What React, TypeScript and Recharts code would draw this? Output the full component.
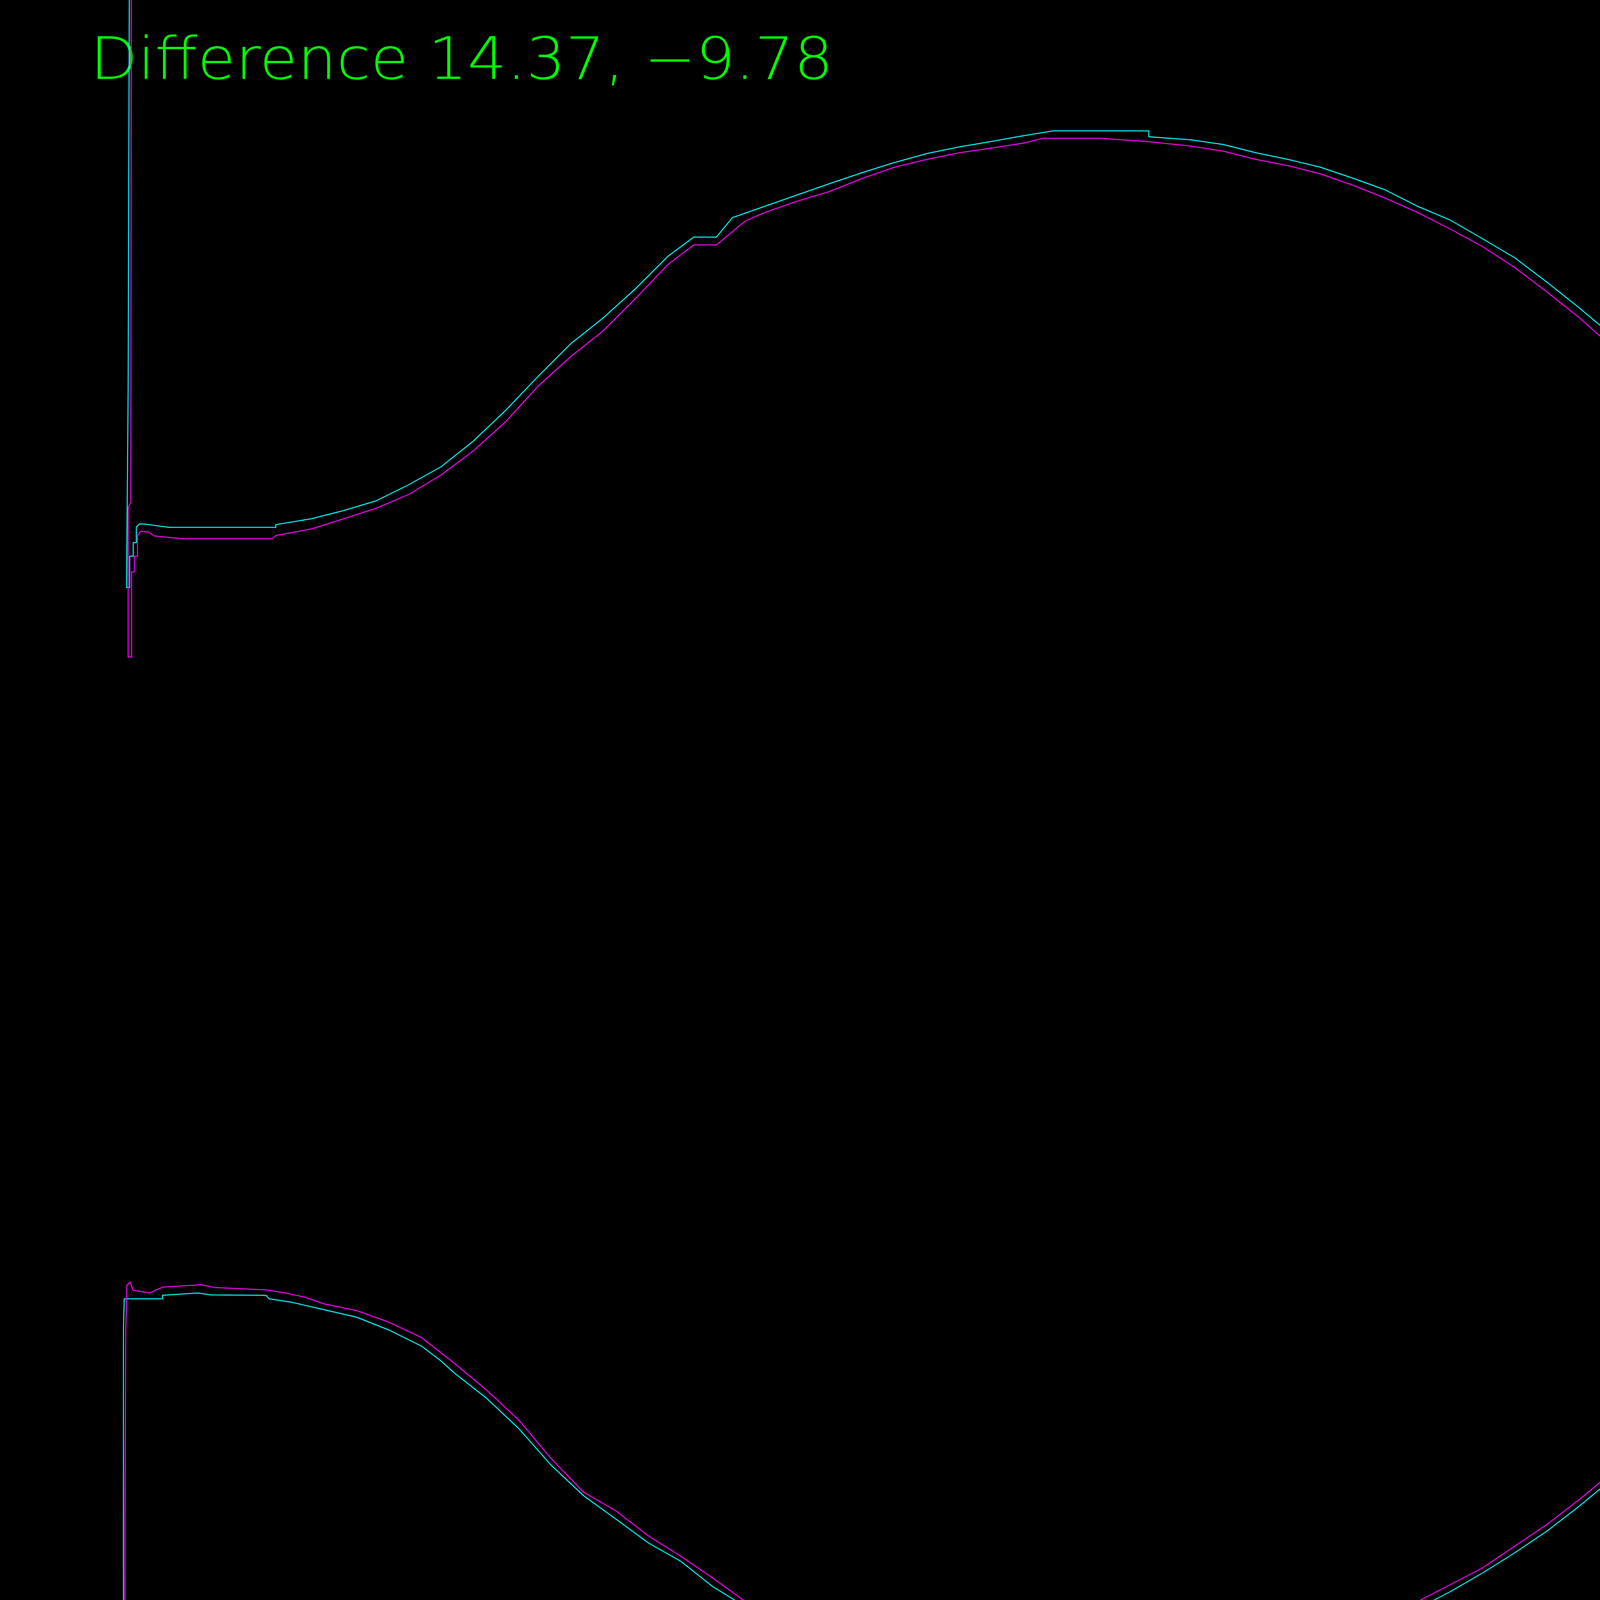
import React from 'react'
import { LineChart, Line, XAxis, YAxis } from 'recharts'

// image pixel space of the diff plot
const WIDTH = 5683
const HEIGHT = 4551

const title = 'Difference 14.37, \u22129.78'

// outlines, [x, y] in image pixels (y grows down)
const upperCyan = [
  [331, 0], [328, 1000], [324, 1504], [332, 1504], [332, 1424], [341, 1424], [341, 1389],
  [349, 1389], [349, 1349], [357, 1341], [373, 1342], [433, 1350], [706, 1350], [706, 1343],
  [797, 1328], [880, 1307], [963, 1282], [1046, 1241], [1129, 1195], [1212, 1129],
  [1295, 1050], [1378, 963], [1461, 880], [1544, 814], [1627, 739], [1710, 656],
  [1776, 607], [1834, 607], [1875, 557], [1958, 528], [2041, 499], [2124, 470],
  [2207, 442], [2290, 416], [2373, 393], [2456, 376], [2539, 362], [2605, 350],
  [2696, 335], [2941, 335], [2941, 350], [3049, 358], [3132, 370], [3215, 391],
  [3297, 408], [3380, 428], [3463, 456], [3546, 486], [3629, 528], [3712, 563],
  [3795, 611], [3878, 660], [3961, 723], [4044, 789], [4127, 859], [4210, 934],
  [4293, 1017], [4375, 1096], [4458, 1158], [4541, 1212], [4624, 1253], [4707, 1293],
  [4790, 1316], [4873, 1332], [4956, 1340], [5055, 1349], [5163, 1357], [5240, 1360],
  [5262, 1370], [5268, 1400], [5268, 1772], [5285, 1772], [5285, 1640], [5293, 1600],
  [5293, 0],
]

const upperMagenta = [
  [336, 0], [335, 1286], [328, 1300], [328, 1682], [337, 1682], [337, 1464], [344, 1464],
  [344, 1424], [352, 1424], [352, 1372], [360, 1360], [380, 1362], [395, 1372], [466, 1379],
  [698, 1379], [706, 1371], [797, 1354], [880, 1328], [963, 1301], [1046, 1266],
  [1129, 1216], [1212, 1154], [1295, 1079], [1378, 988], [1461, 913], [1544, 847],
  [1627, 764], [1710, 677], [1776, 627], [1834, 627], [1909, 565], [1958, 544],
  [2041, 515], [2124, 490], [2207, 457], [2290, 428], [2373, 408], [2456, 391],
  [2539, 379], [2622, 366], [2671, 354], [2816, 354], [2933, 362], [3049, 374],
  [3132, 387], [3215, 408], [3297, 424], [3380, 445], [3463, 474], [3546, 507],
  [3629, 544], [3712, 586], [3795, 631], [3878, 685], [3961, 748], [4044, 814],
  [4127, 888], [4210, 963], [4293, 1050], [4375, 1125], [4458, 1187], [4541, 1245],
  [4624, 1291], [4707, 1324], [4790, 1343], [4873, 1357], [4972, 1369], [5155, 1372],
  [5208, 1378], [5247, 1388], [5257, 1406], [5265, 1424], [5260, 1491], [5260, 1545],
  [5288, 1545], [5283, 1000], [5288, 764], [5288, 0],
]

const lowerCyan = [
  [0, 4549], [308, 4549], [308, 4500], [317, 4490], [316, 4000], [316, 3400], [318, 3325],
  [416, 3325], [416, 3316], [507, 3310], [540, 3315], [681, 3316], [689, 3325], [748, 3334],
  [830, 3353], [913, 3372], [996, 3405], [1079, 3446], [1129, 3484], [1162, 3514],
  [1245, 3579], [1328, 3657], [1411, 3751], [1494, 3829], [1577, 3889], [1660, 3950],
  [1743, 3997], [1825, 4062], [1908, 4113], [1991, 4148], [2074, 4178], [2157, 4204],
  [2240, 4243], [2323, 4264], [2406, 4281], [2489, 4296], [2572, 4310], [2655, 4318],
  [2721, 4324], [2916, 4324], [2991, 4310], [3065, 4301], [3132, 4290], [3215, 4273],
  [3297, 4249], [3380, 4225], [3463, 4199], [3546, 4156], [3629, 4118], [3712, 4075],
  [3795, 4027], [3878, 3975], [3961, 3919], [4044, 3855], [4127, 3786], [4210, 3708],
  [4293, 3622], [4375, 3545], [4458, 3476], [4541, 3420], [4624, 3381], [4707, 3359],
  [4790, 3340], [4890, 3319], [4972, 3310], [5188, 3308], [5196, 3316], [5221, 3316],
  [5229, 3299], [5238, 3308], [5271, 3310], [5277, 3400], [5277, 4547], [5488, 4547],
]

const lowerMagenta = [
  [194, 4522], [311, 4522], [311, 4513], [320, 4513], [320, 3900], [322, 3400], [325, 3290],
  [333, 3282], [341, 3303], [383, 3310], [416, 3295], [515, 3289], [549, 3296], [681, 3302],
  [731, 3310], [781, 3321], [830, 3338], [913, 3355], [996, 3385], [1079, 3424],
  [1162, 3489], [1245, 3558], [1328, 3635], [1411, 3734], [1494, 3820], [1577, 3868],
  [1660, 3932], [1743, 3984], [1825, 4040], [1908, 4100], [1991, 4139], [2074, 4169],
  [2157, 4200], [2240, 4234], [2323, 4253], [2406, 4268], [2489, 4286], [2572, 4299],
  [2704, 4313], [2924, 4314], [2924, 4305], [3016, 4299], [3074, 4290], [3132, 4279],
  [3215, 4260], [3297, 4238], [3380, 4212], [3463, 4178], [3546, 4139], [3629, 4100],
  [3712, 4057], [3795, 4014], [3878, 3958], [3961, 3902], [4044, 3838], [4127, 3769],
  [4210, 3687], [4293, 3596], [4375, 3523], [4458, 3458], [4541, 3407], [4624, 3364],
  [4707, 3338], [4790, 3316], [4906, 3299], [5039, 3290], [5122, 3293], [5171, 3289],
  [5213, 3299], [5233, 3286], [5271, 3289], [5274, 3400], [5274, 4520], [5487, 4520],
  [5487, 2570], [5683, 2570],
]

const toPoints = (pts: number[][]) => pts.map(([x, y]) => ({ x, y }))

const outlines = [
  { key: 'upperCyan', pts: upperCyan, color: '#00ffff' },
  { key: 'upperMagenta', pts: upperMagenta, color: '#ff00ff' },
  { key: 'lowerCyan', pts: lowerCyan, color: '#00ffff' },
  { key: 'lowerMagenta', pts: lowerMagenta, color: '#ff00ff' },
]

export default function App() {
  return (
    <div style={{ position: 'absolute', left: 0, top: 0, width: WIDTH, height: HEIGHT, background: '#000' }}>
      <LineChart
        width={WIDTH}
        height={HEIGHT}
        margin={{ top: 0, right: 0, bottom: 0, left: 0 }}
        style={{ background: '#000' }}
      >
        <XAxis type="number" dataKey="x" domain={[0, WIDTH]} hide allowDataOverflow />
        <YAxis type="number" dataKey="y" domain={[0, HEIGHT]} reversed hide allowDataOverflow />
        {outlines.map((o) => (
          <Line
            key={o.key}
            data={toPoints(o.pts)}
            dataKey="y"
            type="linear"
            stroke={o.color}
            strokeWidth={2.5}
            dot={false}
            activeDot={false}
            isAnimationActive={false}
          />
        ))}
        <text
          x={231}
          y={202}
          fill="#00ff00"
          fontFamily="DejaVu Sans"
          fontWeight={200}
          fontSize={150}
          textLength={1902}
          lengthAdjust="spacingAndGlyphs"
        >
          {title}
        </text>
      </LineChart>
    </div>
  )
}
